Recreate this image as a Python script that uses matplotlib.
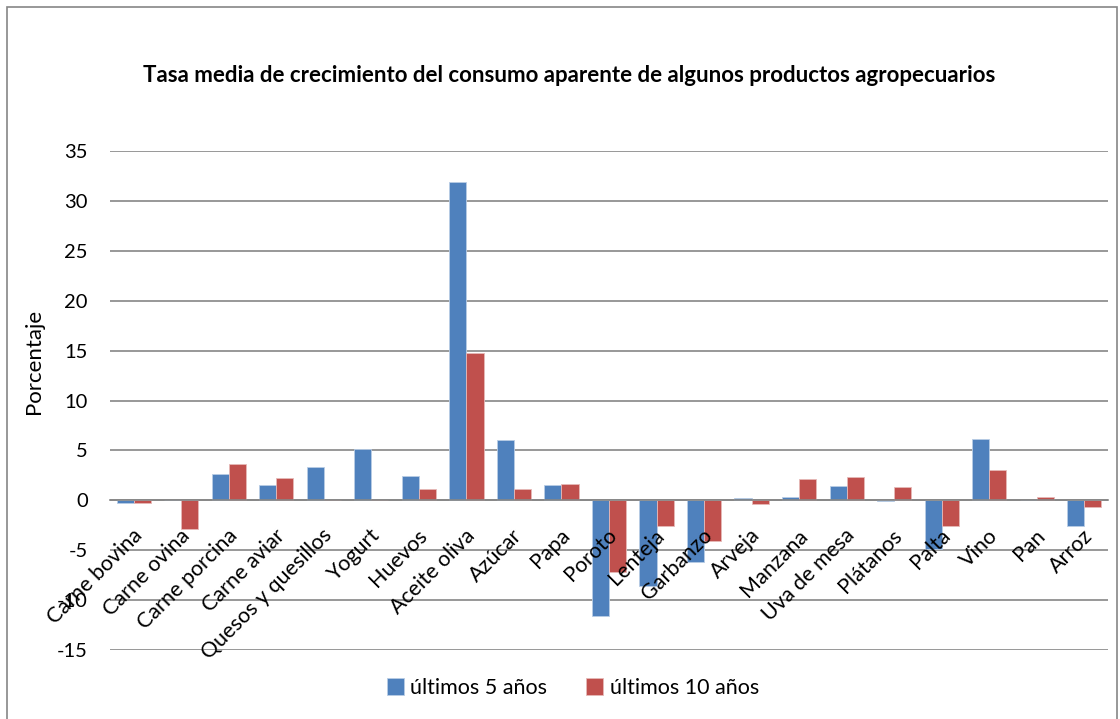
import matplotlib
matplotlib.use("Agg")
import matplotlib.pyplot as plt
from matplotlib.patches import Rectangle
from matplotlib.transforms import ScaledTranslation
import numpy as np

categories = ["Carne bovina", "Carne ovina", "Carne porcina", "Carne aviar",
              "Quesos y quesillos", "Yogurt", "Huevos", "Aceite oliva", "Azúcar",
              "Papa", "Poroto", "Lenteja", "Garbanzo", "Arveja", "Manzana",
              "Uva de mesa", "Plátanos", "Palta", "Vino", "Pan", "Arroz"]
ultimos_5 = [-0.3, 0.0, 2.6, 1.5, 3.3, 5.1, 2.4, 31.9, 6.0, 1.5, -11.6, -8.6,
             -6.2, 0.2, 0.35, 1.45, -0.1, -4.9, 6.15, 0.0, -2.55]
ultimos_10 = [-0.3, -2.9, 3.6, 2.2, 0.0, 0.0, 1.1, 14.8, 1.15, 1.65, -7.2, -2.6,
              -4.1, -0.4, 2.1, 2.3, 1.3, -2.6, 3.0, 0.35, -0.65]
series_names = ["últimos 5 años", "últimos 10 años"]
yticks = list(range(-15, 40, 5))

plt.rcParams['font.family'] = ['Lato', 'DejaVu Sans']
plt.rcParams['axes.unicode_minus'] = False

fig = plt.figure(figsize=(11.2, 7.19), dpi=100)
ax = fig.add_axes([110/1120, 69/719, (1108-110)/1120, (650-151)/719])

x = np.arange(len(categories))
w = 0.36
blue = "#4F81BD"
red = "#C0504D"
b1 = ax.bar(x - w/2, ultimos_5, w, color=blue, edgecolor="#B9CDE5", linewidth=0.6,
            label=series_names[0], zorder=2)
b2 = ax.bar(x + w/2, ultimos_10, w, color=red, edgecolor="#E6B9B8", linewidth=0.6,
            label=series_names[1], zorder=2)

ax.set_xlim(-0.5, len(categories) - 0.5)
ax.set_ylim(-15, 35)
ax.set_yticks(yticks)
ax.yaxis.grid(True, color="#868686", linewidth=1.2)
ax.set_axisbelow(True)
ax.xaxis.set_zorder(6)
for s in ["top", "right", "left"]:
    ax.spines[s].set_visible(False)
ax.spines["bottom"].set_position(("data", 0))
ax.spines["bottom"].set_color("#868686")
ax.spines["bottom"].set_linewidth(1.2)
ax.spines["bottom"].set_zorder(4)
ax.tick_params(axis="y", length=0, labelsize=14.5, pad=16)
ax.tick_params(axis="x", length=0, labelsize=15.5, pad=18)
ax.set_xticks(x)
ax.set_xticklabels(categories, rotation=45, ha="right", va="top",
                   rotation_mode="anchor")
offset = ScaledTranslation(-2/100, 0, fig.dpi_scale_trans)
for lbl in ax.get_xticklabels():
    lbl.set_transform(lbl.get_transform() + offset)
ax.set_ylabel("Porcentaje", fontsize=16)
ax.yaxis.set_label_coords(-0.066, 0.579)

fig.text(0.508, 1 - 75/719, "Tasa media de crecimiento del consumo aparente de algunos productos agropecuarios",
         ha="center", va="center", fontsize=16, fontweight="bold")

fig.legend(handles=[b1, b2], labels=series_names, loc="center",
           bbox_to_anchor=(573/1120, 1 - 688/719), ncol=2, frameon=False,
           fontsize=15.5, handlelength=0.8, handleheight=0.8, columnspacing=1.8,
           handletextpad=0.3)

fig.patches.append(Rectangle((7/1120, -0.01), (1117-7)/1120, 1 - 7/719 + 0.01,
                             transform=fig.transFigure, fill=False,
                             edgecolor="#868686", linewidth=1.2))

fig.savefig("out.png", dpi=100)
